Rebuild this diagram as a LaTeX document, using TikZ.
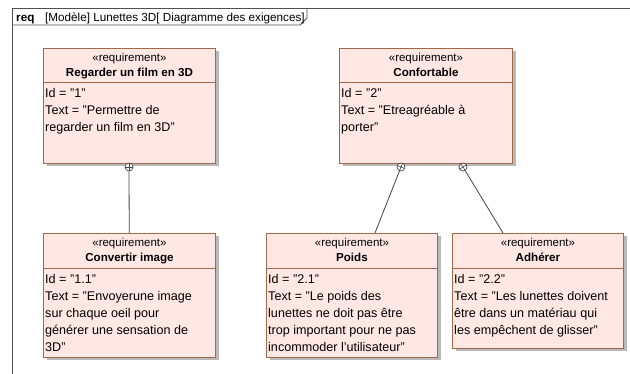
\documentclass[tikz,border=0pt]{standalone}
\usepackage{fontspec}
\setmainfont{Liberation Sans}
\usetikzlibrary{calc}

\definecolor{reqfill}{RGB}{255,232,228}
\definecolor{reqline}{RGB}{160,105,75}
\definecolor{reqshadow}{RGB}{185,185,185}
\definecolor{frameline}{RGB}{80,80,80}
\definecolor{linkline}{RGB}{70,70,70}

\tikzset{
  reqbox/.style={draw=reqline, fill=reqfill, line width=0.9pt, rectangle,
    inner sep=0pt, anchor=north west},
  reqstereo/.style={anchor=base, inner sep=0pt, font=\fontsize{11.5}{14}\selectfont},
  reqtitle/.style={anchor=base, inner sep=0pt, font=\fontsize{11.6}{14}\selectfont\bfseries},
  reqbody/.style={anchor=north west, inner sep=0pt, align=left,
    font=\fontsize{12.6}{17}\selectfont},
  containsym/.style={circle, draw=linkline, fill=white, line width=0.7pt,
    minimum size=8pt, inner sep=0pt},
  link/.style={draw=linkline, line width=0.8pt},
  framestyle/.style={draw=frameline, line width=0.9pt},
}

% requirement block: name, left, top, width, height, header height, title, body
\newcommand{\reqblock}[8]{
  \fill[reqshadow] ($(#2,#3)+(3.5,3.5)$) rectangle ++(#4,#5);
  \node[reqbox, minimum width=#4pt, minimum height=#5pt] (#1) at (#2,#3) {};
  \draw[reqline, line width=0.9pt] ($(#1.north west)+(0,#6)$) -- ($(#1.north east)+(0,#6)$);
  \node[reqstereo] (#1-st) at ($(#1.north)+(0,14)$) {«requirement»};
  \node[reqtitle] (#1-tl) at ($(#1.north)+(0,29)$) {#7};
  \node[reqbody] (#1-bd) at ($(#1.north west)+(2,#6+6)$) {#8};
}

% containment mark: name, position, angle of the connector
\newcommand{\containmark}[3]{
  \node[containsym] (#1) at (#2) {};
  \pgfmathsetmacro{\ca}{#3}
  \pgfmathsetmacro{\cb}{#3+90}
  \pgfmathsetmacro{\cc}{#3+180}
  \pgfmathsetmacro{\cd}{#3+270}
  \draw[linkline, line width=0.6pt] (#1.\ca) -- (#1.\cc) (#1.\cb) -- (#1.\cd);
}

\begin{document}
\begin{tikzpicture}[x=1pt, y=-1pt]
  \useasboundingbox (0,0) rectangle (630,374);
  \fill[white] (0,0) rectangle (630,374);

  % diagram frame and its name tab
  \draw[framestyle] (12,380) -- (12,8) -- (640,8);
  \draw[framestyle] (12,25) -- (300,25) -- (307,18) -- (307,8);
  \node[anchor=base west, inner sep=0pt, font=\fontsize{11.7}{14}\selectfont\bfseries] (fr-kind) at (16,22) {req};
  \node[anchor=base west, inner sep=0pt, font=\fontsize{11.7}{14}\selectfont] (fr-name) at (45,22)
    {[Modèle] Lunettes 3D[ Diagramme des exigences]};

  % requirements
  \reqblock{r1}{43}{48}{172}{115}{34}{Regarder un film en 3D}
    {Id = "1"\\Text = "Permettre de\\regarder un film en 3D"}
  \reqblock{r2}{339}{48}{173}{115}{34}{Confortable}
    {Id = "2"\\Text = "Etreagréable à\\porter"}
  \reqblock{r11}{43}{233}{172}{124}{35}{Convertir image}
    {Id = "1.1"\\Text = "Envoyerune image\\sur chaque oeil pour\\générer une sensation de\\3D"}
  \reqblock{r21}{266}{233}{171}{124}{35}{Poids}
    {Id = "2.1"\\Text = "Le poids des\\lunettes ne doit pas être\\trop important pour ne pas\\incommoder l'utilisateur"}
  \reqblock{r22}{452}{233}{171}{115}{35}{Adhérer}
    {Id = "2.2"\\Text = "Les lunettes doivent\\être dans un matériau qui\\les empêchent de glisser"}

  % containment relations
  \containmark{c1}{129,167}{0}
  \draw[link] (c1) -- (r11);

  \coordinate (e21) at ($(r21.north west)+(109,0)$);
  \coordinate (e22) at ($(r22.north west)+(51,0)$);
  \containmark{c2a}{401,167}{67}
  \containmark{c2b}{463,167}{-57}
  \draw[link] (c2a) -- (e21);
  \draw[link] (c2b) -- (e22);
\end{tikzpicture}
\end{document}
